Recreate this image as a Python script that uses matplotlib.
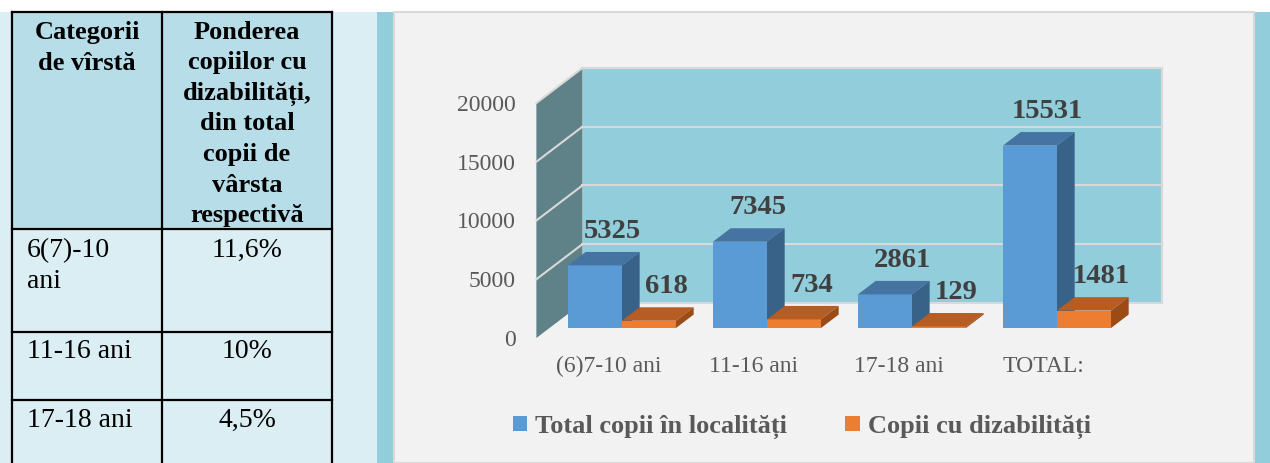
"""
Table + pseudo-3D clustered bar chart (children with disabilities by age group)
"""
import matplotlib
matplotlib.use('Agg')
import matplotlib.pyplot as plt
from matplotlib.patches import Polygon, Rectangle

# ---- data ----
categories = ['(6)7-10 ani', '11-16 ani', '17-18 ani', 'TOTAL:']
total_copii = [5325, 7345, 2861, 15531]
copii_dizab = [618, 734, 129, 1481]
series_names = ['Total copii în localități', 'Copii cu dizabilități']
y_ticks = [0, 5000, 10000, 15000, 20000]

header_col1 = ['Categorii', 'de vîrstă']
header_col2 = ['Ponderea', 'copiilor cu', 'dizabilități,', 'din total',
               'copii de', 'vârsta', 'respectivă']
age_rows = [['6(7)-10', 'ani'], ['11-16 ani'], ['17-18 ani']]
share_rows = ['11,6%', '10%', '4,5%']

SERIF = 'Liberation Serif'
plt.rcParams['font.family'] = SERIF

W, H = 1270, 463
fig = plt.figure(figsize=(W / 100, H / 100), dpi=100)
fig.patch.set_facecolor('white')

# ---- page background / table (pixel coordinates) ----
bg = fig.add_axes([0, 0, 1, 1])
bg.set_xlim(0, W)
bg.set_ylim(H, 0)
bg.axis('off')

bg.add_patch(Rectangle((0, 12), 377, H - 12, color='#daeef3', lw=0))
bg.add_patch(Rectangle((12, 12), 320, 217, color='#b7dde8', lw=0))
bg.add_patch(Rectangle((377, 12), 17, H - 12, color='#92cddc', lw=0))
bg.add_patch(Rectangle((394, 12), 860, H - 12, facecolor='#f2f2f2',
                       edgecolor='#d9d9d9', lw=1.5))
bg.add_patch(Rectangle((1255, 12), 15, H - 12, color='#92cddc', lw=0))

# table grid
for x in [12, 162, 332]:
    bg.plot([x, x], [12, H], color='black', lw=1.6, solid_capstyle='projecting')
for y in [12, 229, 332, 400]:
    bg.plot([12, 332], [y, y], color='black', lw=1.6, solid_capstyle='projecting')

# header text
for k, line in enumerate(header_col1):
    bg.text(87, 39 + 30.5 * k, line, ha='center', va='baseline',
            fontsize=19, fontweight='bold', color='black')
for k, line in enumerate(header_col2):
    bg.text(247, 39 + 30.5 * k, line, ha='center', va='baseline',
            fontsize=19, fontweight='bold', color='black')

# body rows
row_baselines = [257, 358, 427]
for age, share, yb in zip(age_rows, share_rows, row_baselines):
    for k, line in enumerate(age):
        bg.text(27, yb + 31 * k, line, ha='left', va='baseline',
                fontsize=20, color='black')
    bg.text(247, yb, share, ha='center', va='baseline', fontsize=20, color='black')

# ---- chart axes: bar front plane mapped linearly onto pixels ----
X0_PX, CAT_PX = 622, 145          # category 0 centre, px per category
Y0_PX, VAL_PX = 328, 235 / 20000  # baseline, px per value unit
AX_L, AX_R, AX_T, AX_B = 394, 1254, 12, H

ax = fig.add_axes([AX_L / W, 1 - AX_B / H, (AX_R - AX_L) / W, (AX_B - AX_T) / H])
ax.set_xlim((AX_L - X0_PX) / CAT_PX, (AX_R - X0_PX) / CAT_PX)
ax.set_ylim((Y0_PX - AX_B) / VAL_PX, (Y0_PX - AX_T) / VAL_PX)
ax.axis('off')


def depth(d):
    """data offset for a depth of d pixels (oblique projection)"""
    return d * 0.796 / CAT_PX, d * 0.606 / VAL_PX


front_dx, front_dy = depth(-16.5)
back_dx, back_dy = depth(41.3)
wall_x0, wall_x1 = -0.5, len(categories) - 0.5
ymax = y_ticks[-1]

# back wall
ax.add_patch(Polygon([(wall_x0 + back_dx, back_dy), (wall_x1 + back_dx, back_dy),
                      (wall_x1 + back_dx, ymax + back_dy), (wall_x0 + back_dx, ymax + back_dy)],
                     closed=True, facecolor='#92cddc', edgecolor='#d9d9d9', lw=1.5, zorder=1))
# side wall
ax.add_patch(Polygon([(wall_x0 + front_dx, front_dy), (wall_x0 + back_dx, back_dy),
                      (wall_x0 + back_dx, ymax + back_dy), (wall_x0 + front_dx, ymax + front_dy)],
                     closed=True, facecolor='#5f8289', edgecolor='none', zorder=1))
# gridlines
for v in y_ticks[1:]:
    ax.plot([wall_x0 + back_dx, wall_x1 + back_dx], [v + back_dy, v + back_dy],
            color='#d9d9d9', lw=1.5, zorder=2)
    ax.plot([wall_x0 + front_dx, wall_x0 + back_dx], [v + front_dy, v + back_dy],
            color='#d9d9d9', lw=1.5, zorder=2)

# y tick labels along the front edge of the side wall
for v in y_ticks:
    ax.annotate(str(v), (wall_x0 + front_dx, v + front_dy), xytext=(-15, -5.6),
                textcoords='offset points', ha='right', va='baseline',
                fontsize=17, color='#595959')

# bars
bw = 54 / CAT_PX
bar_dx, bar_dy = depth(22.2)
xs = list(range(len(categories)))
styles = [('#5b9bd5', '#4674a2', '#386288'), ('#ed7d31', '#b55d22', '#9c4a16')]

containers = []
for s, (vals, offs) in enumerate([(total_copii, -bw), (copii_dizab, 0.0)]):
    front, top, side = styles[s]
    bc = ax.bar([x + offs for x in xs], vals, width=bw, align='edge',
                color=front, lw=0, zorder=5 + 2 * s, label=series_names[s])
    containers.append(bc)
    for x, v in zip(xs, vals):
        xl, xr = x + offs, x + offs + bw
        ax.add_patch(Polygon([(xl, v), (xr, v), (xr + bar_dx, v + bar_dy),
                              (xl + bar_dx, v + bar_dy)],
                             closed=True, color=top, lw=0, zorder=5 + 2 * s))
        ax.add_patch(Polygon([(xr, 0), (xr + bar_dx, bar_dy), (xr + bar_dx, v + bar_dy),
                              (xr, v)],
                             closed=True, color=side, lw=0, zorder=5 + 2 * s))
        ax.annotate(str(v), ((xl + xr) / 2 + bar_dx, v + bar_dy), xytext=(0, 10),
                    textcoords='offset points', ha='center', va='baseline',
                    fontsize=20.5, fontweight='bold', color='#404040', zorder=20)

# category labels
for x, lab in zip(xs, categories):
    ax.annotate(lab, (x + front_dx, front_dy), xytext=(0, -24.5),
                textcoords='offset points', ha='center', va='baseline',
                fontsize=17, color='#595959')

# legend
fig.legend(handles=containers, labels=series_names, ncol=2, loc='center',
           bbox_to_anchor=(802 / W, 1 - 427 / H), frameon=False,
           prop={'family': SERIF, 'size': 19, 'weight': 'bold'},
           labelcolor='#595959', handlelength=0.55, handleheight=0.5,
           handletextpad=0.3, columnspacing=2.2)

fig.savefig('out.png', dpi=100)
plt.close(fig)
